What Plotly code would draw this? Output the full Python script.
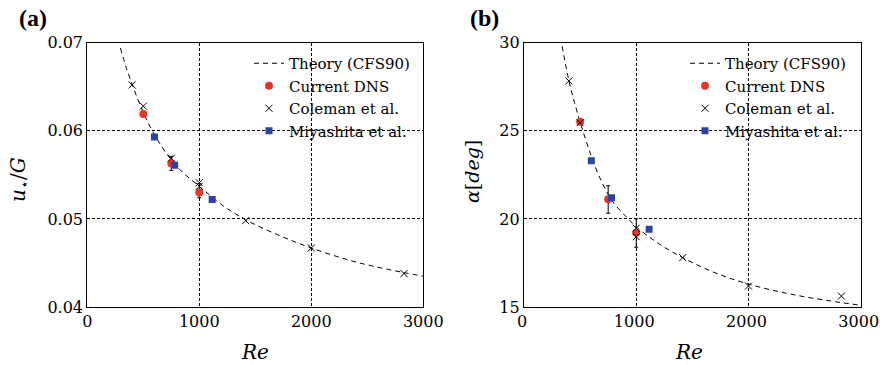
import plotly.graph_objects as go

# ---- data ----
re_theory_a = [295, 350, 400, 450, 500, 560, 650, 750, 850, 1000, 1200, 1414, 1700, 2000, 2400, 2828, 3000]
ustar_theory = [0.0694, 0.0671, 0.0653, 0.0636, 0.0621, 0.0605, 0.0585, 0.0567, 0.0553, 0.0537, 0.0516, 0.0499, 0.0482, 0.0467, 0.0451, 0.0439, 0.0435]

re_theory_b = [340, 400, 450, 500, 560, 620, 700, 800, 930, 1000, 1200, 1414, 1700, 2000, 2400, 2828, 3000]
alpha_theory = [29.8, 27.85, 26.6, 25.5, 24.3, 23.2, 22.0, 20.9, 20.0, 19.55, 18.6, 17.8, 16.95, 16.3, 15.7, 15.25, 15.1]

re_dns = [500, 750, 1000]
ustar_dns = [0.0619, 0.0563, 0.0530]
ustar_dns_err_plus = [0.0003, 0.0008, 0.0010]
ustar_dns_err_minus = [0.0003, 0.0008, 0.0006]
alpha_dns = [25.52, 21.11, 19.22]
alpha_dns_err_plus = [0.12, 0.77, 0.78]
alpha_dns_err_minus = [0.12, 0.79, 0.83]

re_coleman_a = [400, 500, 750, 1000, 1000, 1414, 2000, 2828]
ustar_coleman = [0.0652, 0.0628, 0.0569, 0.0541, 0.0537, 0.0498, 0.0467, 0.0438]
re_coleman_b = [400, 500, 1000, 1000, 1414, 2000, 2828]
alpha_coleman = [27.83, 25.46, 19.47, 18.99, 17.80, 16.19, 15.62]

re_miyashita = [600, 780, 1115]
ustar_miyashita = [0.0593, 0.0561, 0.0522]
alpha_miyashita = [23.30, 21.20, 19.41]

x_ticks = [0, 1000, 2000, 3000]
ya_ticks = [0.04, 0.05, 0.06, 0.07]
ya_ticktext = ["0.04", "0.05", "0.06", "0.07"]
yb_ticks = [15, 20, 25, 30]

legend_names = ["Theory (CFS90)", "Current DNS", "Coleman et al.", "Miyashita et al."]

# ---- styles ----
RED = "#e2382c"
BLUE = "#2d43a3"
FONT = "DejaVu Serif"
W, H = 880, 365

def px_x(p):
    return p / W

def px_y(p):
    return 1 - p / H

fig = go.Figure()

def add_panel(xa, ya, leg, re_th, th, yv_dns, ep, em, re_col, yv_col, yv_miy):
    fig.add_trace(go.Scatter(x=re_th, y=th, mode="lines", name=legend_names[0],
                             line=dict(color="black", width=1, dash="5px,4px", shape="spline"),
                             xaxis=xa, yaxis=ya, legend=leg))
    fig.add_trace(go.Scatter(x=re_dns, y=yv_dns, mode="markers", name=legend_names[1],
                             marker=dict(color=RED, size=8, symbol="circle"),
                             error_y=dict(type="data", array=ep, arrayminus=em, color="black",
                                          thickness=1, width=2),
                             xaxis=xa, yaxis=ya, legend=leg))
    fig.add_trace(go.Scatter(x=re_col, y=yv_col, mode="markers", name=legend_names[2],
                             marker=dict(color="black", size=7, symbol="x-thin",
                                         line=dict(color="black", width=1)),
                             xaxis=xa, yaxis=ya, legend=leg))
    fig.add_trace(go.Scatter(x=re_miyashita, y=yv_miy, mode="markers", name=legend_names[3],
                             marker=dict(color=BLUE, size=7, symbol="square"),
                             xaxis=xa, yaxis=ya, legend=leg))

add_panel("x", "y", "legend", re_theory_a, ustar_theory, ustar_dns,
          ustar_dns_err_plus, ustar_dns_err_minus, re_coleman_a, ustar_coleman, ustar_miyashita)
add_panel("x2", "y2", "legend2", re_theory_b, alpha_theory, alpha_dns,
          alpha_dns_err_plus, alpha_dns_err_minus, re_coleman_b, alpha_coleman, alpha_miyashita)

tickfont = dict(family=FONT, size=16, color="black")
common_x = dict(range=[0, 3000], tickvals=x_ticks, showgrid=True, gridcolor="black",
                gridwidth=1, griddash="3px,2px", zeroline=False, showline=True,
                linecolor="black", linewidth=1.2, mirror=True, ticks="", tickfont=tickfont,
                automargin=False, ticklabeloverflow="allow")
common_y = dict(showgrid=True, gridcolor="black", gridwidth=1, griddash="3px,2px",
                zeroline=False, showline=True, linecolor="black", linewidth=1.2,
                mirror=True, ticks="", tickfont=tickfont, automargin=False)
overlay_y = dict(side="right", ticks="outside", ticklen=4, tickcolor="black",
                 showticklabels=False, showgrid=False, showline=False, zeroline=False,
                 automargin=False)

ya_dom = [px_y(307), px_y(42.7)]
fig.update_layout(
    width=W, height=H, margin=dict(l=0, r=0, t=0, b=0, autoexpand=False),
    paper_bgcolor="white", plot_bgcolor="white",
    xaxis=dict(domain=[px_x(87.3), px_x(423.3)], anchor="y", **common_x),
    yaxis=dict(domain=ya_dom, anchor="x", range=[0.04, 0.07], tickvals=ya_ticks,
               ticktext=ya_ticktext, **common_y),
    xaxis2=dict(domain=[px_x(524), px_x(860.7)], anchor="y2", ticklabelshift=-2, **common_x),
    yaxis2=dict(domain=ya_dom, anchor="x2", range=[15, 30], tickvals=yb_ticks, **common_y),
    yaxis3=dict(overlaying="y", anchor="x", range=[0.04, 0.07], tickvals=ya_ticks, **overlay_y),
    yaxis4=dict(overlaying="y2", anchor="x2", range=[15, 30], tickvals=yb_ticks, **overlay_y),
    legend=dict(x=px_x(249), y=px_y(47), xanchor="left", yanchor="top",
                bgcolor="rgba(0,0,0,0)", font=dict(family=FONT, size=15, color="black"),
                itemwidth=30),
    legend2=dict(x=px_x(685), y=px_y(47), xanchor="left", yanchor="top",
                 bgcolor="rgba(0,0,0,0)", font=dict(family=FONT, size=15, color="black"),
                 itemwidth=30),
    showlegend=True,
)

annots = [
    dict(text="<b>(a)</b>", x=px_x(17), y=px_y(18), xanchor="left", yanchor="middle",
         font=dict(family="Liberation Serif", size=24, color="black")),
    dict(text="<b>(b)</b>", x=px_x(468), y=px_y(18), xanchor="left", yanchor="middle",
         font=dict(family="Liberation Serif", size=24, color="black")),
    dict(text="<i>Re</i>", x=px_x(255.3), y=px_y(352), xanchor="center", yanchor="middle",
         font=dict(family=FONT, size=20, color="black")),
    dict(text="<i>Re</i>", x=px_x(689), y=px_y(352), xanchor="center", yanchor="middle",
         font=dict(family=FONT, size=20, color="black")),
    dict(text="<i>u</i><sub>⋆</sub>/<i>G</i>", x=px_x(19), y=px_y(180), xanchor="center",
         yanchor="middle", textangle=-90, font=dict(family=FONT, size=20, color="black")),
    dict(text="<i>α</i>[<i>deg</i>]", x=px_x(472), y=px_y(172), xanchor="center",
         yanchor="middle", textangle=-90, font=dict(family=FONT, size=19, color="black")),
]
for a in annots:
    fig.add_annotation(xref="paper", yref="paper", showarrow=False, **a)

fig.write_html("out.html")
